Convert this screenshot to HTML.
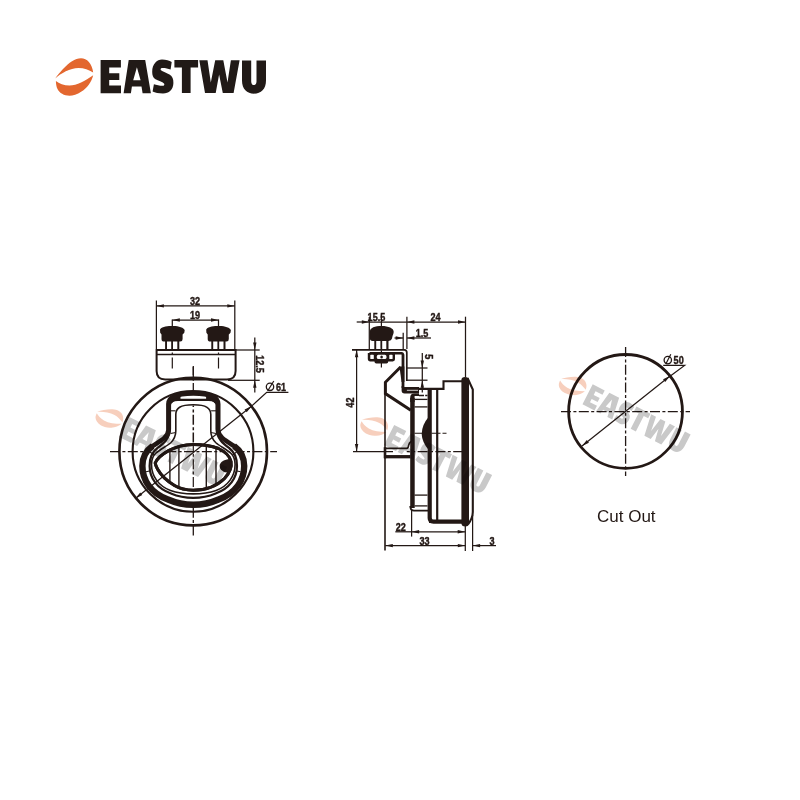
<!DOCTYPE html>
<html><head><meta charset="utf-8">
<style>
html,body{margin:0;padding:0;background:#fff;}
body{width:800px;height:800px;overflow:hidden;position:relative;font-family:"Liberation Sans",sans-serif;}
svg{position:absolute;left:0;top:0;will-change:transform;}
.k{stroke:#231815;fill:none;}
.t{font-family:"Liberation Sans",sans-serif;fill:#231815;font-size:10.8px;font-weight:bold;stroke:#231815;stroke-width:0.42;}
</style></head>
<body>
<svg width="800" height="800" viewBox="0 0 800 800">
<g id="logo"><g fill="#e3672f"><path d="M55.3,78.4 C59,73 66,65 72,61.2 C75,59.3 78,58.3 81,58.3 C87,58.3 92,63.5 93.2,72.5 C89,70 84,68.1 78.5,68.1 C70,68.1 61,73.5 55.3,78.4 Z"/><path d="M55.9,80.9 C59,83.5 64,85.6 69.5,85.6 C77,85.6 85,81 93.2,75.3 C91.5,82 87,88.5 81.5,91.5 C77,94.5 73,95.7 69.5,95.7 C64,95.7 59.5,93 57.5,89 C56.3,86.5 55.9,83.5 55.9,80.9 Z"/></g><g fill="#211a17" fill-rule="evenodd"><path d="M100.6,60.1 H120.9 V67.4 H109.2 V73.3 H119.3 V80 H109.2 V85.4 H121 V93.2 H100.6 Z"/><path d="M128.7,60.1 H145.2 L150.9,93.2 H142.6 L141.5,86.6 H131.9 L130.9,93.2 H123.6 Z M136.9,67.2 L133.2,80.3 H140.6 Z"/><path d="M162,59.6 C166,59.6 169.5,60.5 171.7,62 L170.6,69.5 C168,68.3 165,67.8 162,67.9 C160.5,68 160.3,69.5 161,70.3 C162.5,71.8 167,73 169.5,74.6 C172.5,76.5 173.5,79 173.4,83 C173.3,89.5 169,93.5 163,93.5 C158.5,93.5 155,92.8 152.6,91.6 L153.9,84.3 C156.5,85.2 159.5,85.8 162.5,85.8 C164.3,85.8 164.8,84.4 164,83.4 C162.5,82 158,80.8 155.5,79.3 C153,77.8 152.2,75 152.2,72 C152.2,64 157,59.6 162,59.6 Z"/><path d="M174.4,60 H198.1 V67.5 H190.6 V93.1 H181.9 V67.5 H174.4 Z"/><path d="M199.3,60.3 H207.5 L210.8,82.4 L215.2,60.3 H223.3 L227.5,82.4 L230.9,60.3 H239.6 L233.6,93.1 H222.8 L219.1,74.4 L215.7,93.1 H205 Z"/><path d="M242,60.4 H251.2 V81.5 C251.2,84 252.5,85.1 253.85,85.1 C255.2,85.1 256.5,84 256.5,81.5 V60.4 H266 V80.5 C266,89 261,93.7 254,93.7 C247,93.7 242,89 242,80.5 Z"/></g></g>
<g id="front">
<line class="k" stroke-width="1.3" stroke-dasharray="10 2.4 3 2.4" stroke-dashoffset="0" x1="110" y1="451.7" x2="277" y2="451.7"/>
<line class="k" stroke-width="1.3" stroke-dasharray="10 2.4 3 2.4" stroke-dashoffset="0" x1="193.3" y1="535.5" x2="193.3" y2="366"/>
<circle class="k" cx="193.2" cy="451.6" r="73.8" stroke-width="2.6"/>
<circle class="k" cx="193" cy="451.4" r="60.4" stroke-width="2.1"/>
<path class="k" stroke-width="2" fill="#fff" d="M156.6,350 H235.6 V371 Q235.6,379.4 227,379.4 H165.2 Q156.6,379.4 156.6,371 Z"/>
<line class="k" stroke-width="1.5" x1="156.6" y1="354.6" x2="235.6" y2="354.6"/>
<line class="k" stroke-width="1.2" stroke-dasharray="2.5 2.5 11 3" stroke-dashoffset="0" x1="172.3" y1="352.5" x2="172.3" y2="370"/>
<line class="k" stroke-width="1.2" stroke-dasharray="2.5 2.5 11 3" stroke-dashoffset="0" x1="218.5" y1="352.5" x2="218.5" y2="370"/>
<line class="k" stroke-width="1.3" stroke-dasharray="10 2.4 3 2.4" stroke-dashoffset="0" x1="193.3" y1="367" x2="193.3" y2="380"/>
<path fill="#231815" d="M160,329.4 C162.3,326.5 168.3,326.1 172.3,326.1 C176.3,326.1 182.3,326.5 184.7,330 L184.3,332.7 L182.6,334.4 L182.6,339 Q182.6,341.6 180.3,341.6 L164.3,341.6 Q161.5,341.6 161.5,339 L161.5,334.4 L160.2,332.7 Z"/>
<rect x="165.1" y="341" width="1.9" height="8.5" fill="#231815"/>
<rect x="171.2" y="341" width="1.8" height="8.5" fill="#231815"/>
<rect x="177.3" y="341" width="2" height="8.5" fill="#231815"/>
<path fill="#231815" d="M206.2,329.4 C208.5,326.5 214.5,326.1 218.5,326.1 C222.5,326.1 228.5,326.5 230.9,330 L230.5,332.7 L228.8,334.4 L228.8,339 Q228.8,341.6 226.5,341.6 L210.5,341.6 Q207.7,341.6 207.7,339 L207.7,334.4 L206.4,332.7 Z"/>
<rect x="211.3" y="341" width="1.9" height="8.5" fill="#231815"/>
<rect x="217.4" y="341" width="1.8" height="8.5" fill="#231815"/>
<rect x="223.5" y="341" width="2" height="8.5" fill="#231815"/>
<line class="k" stroke-width="1.25" x1="156.4" y1="300.5" x2="156.4" y2="349"/>
<line class="k" stroke-width="1.25" x1="234.8" y1="300.5" x2="234.8" y2="349"/>
<line class="k" stroke-width="1.25" x1="156.4" y1="305.9" x2="234.8" y2="305.9"/>
<path fill="#231815" d="M234.8,305.9 L227.3,307.6 L227.3,304.2 Z"/>
<path fill="#231815" d="M156.4,305.9 L163.9,304.2 L163.9,307.6 Z"/>
<text class="t" text-anchor="middle" transform="translate(195,304.9) scale(0.84,1)">32</text>
<line class="k" stroke-width="1.25" x1="172.3" y1="319.4" x2="172.3" y2="326.5"/>
<line class="k" stroke-width="1.25" x1="218.5" y1="319.4" x2="218.5" y2="326.5"/>
<line class="k" stroke-width="1.25" x1="172.3" y1="320" x2="218.5" y2="320"/>
<path fill="#231815" d="M218.5,320 L211,321.7 L211,318.3 Z"/>
<path fill="#231815" d="M172.3,320 L179.8,318.3 L179.8,321.7 Z"/>
<text class="t" text-anchor="middle" transform="translate(195,318.6) scale(0.84,1)">19</text>
<line class="k" stroke-width="1.25" x1="236" y1="350" x2="259.7" y2="350"/>
<line class="k" stroke-width="1.25" x1="228" y1="380.3" x2="259.7" y2="380.3"/>
<line class="k" stroke-width="1.25" x1="254.8" y1="337.4" x2="254.8" y2="350"/>
<path fill="#231815" d="M254.8,350 L253.1,342.5 L256.5,342.5 Z"/>
<line class="k" stroke-width="1.25" x1="254.8" y1="392.5" x2="254.8" y2="380.3"/>
<path fill="#231815" d="M254.8,380.3 L256.5,387.8 L253.1,387.8 Z"/>
<line class="k" stroke-width="1.25" x1="254.8" y1="350" x2="254.8" y2="380.3"/>
<text class="t" text-anchor="middle" transform="translate(256.4,364) rotate(90) scale(0.84,1)">12.5</text>
<g id="handle">
<path fill="#fff" d="M193.3,393.4 C186,393.4 178,394.4 173.5,396.6 C170,398.3 168.4,400.5 168.4,404 C168.4,404 168.4,430 168.4,430 C168.4,437 160.5,441 152.5,446 C145.5,451 142.4,457 142.4,466 C142.4,480 150.5,493 168,499.5 C176,503 185,504.8 193.3,504.8 C201.6,504.8 210.6,503 218.6,499.5 C236.1,493 244.2,480 244.2,466 C244.2,457 241.1,451 234.1,446 C226.1,441 218.2,437 218.2,430 C218.2,430 218.2,404 218.2,404 C218.2,400.5 216.6,398.3 213.1,396.6 C208.6,394.4 200.6,393.4 193.3,393.4 Z"/>
<path class="k" stroke-width="2.2" d="M193.3,399.8 C193.3,399.8 178,399.8 178,399.8 C173.5,399.8 170,401.5 170,405 C170,405 170,429 170,429 C170,438.5 163,443.8 157.5,448 C152,452 149.6,458 149.6,466 C149.6,478 157,488.5 171,493.5 C178,496.5 186,497.9 193.3,497.9 C200.6,497.9 208.6,496.5 215.6,493.5 C229.6,488.5 237,478 237,466 C237,458 234.6,452 229.1,448 C223.6,443.8 216.6,438.5 216.6,429 C216.6,429 216.6,405 216.6,405 C216.6,401.5 213.1,399.8 208.6,399.8 C208.6,399.8 193.3,399.8 193.3,399.8 Z"/>
<path class="k" stroke-width="1.6" d="M193.3,404.8 C187,404.8 182,405.8 179.6,407.3 C177,409 175.8,411 175.8,414.5 C175.8,414.5 175.8,431 175.8,431 C175.8,437 173.5,440 170.7,442.75 C167,446 160,449.5 155.5,453.5 C152.5,456.5 151.5,460 151.5,464.5 C151.5,476 158.5,486 170.5,490.5 C177.5,493 185.5,493.9 193.3,493.9 C201.1,493.9 209.1,493 216.1,490.5 C228.1,486 235.1,476 235.1,464.5 C235.1,460 234.1,456.5 231.1,453.5 C226.6,449.5 219.6,446 215.9,442.75 C213.1,440 210.8,437 210.8,431 C210.8,431 210.8,414.5 210.8,414.5 C210.8,411 209.6,409 207,407.3 C204.6,405.8 199.6,404.8 193.3,404.8 Z"/>
<path fill="#231815" d="M170,396 L180.5,395.8 L180.5,399.3 Q175,399.6 171.6,403.5 L170,403.5 Z"/>
<path fill="#231815" d="M216.6,396 L206.1,395.8 L206.1,399.3 Q211.6,399.6 215,403.5 L216.6,403.5 Z"/>
<path class="k" stroke-width="4.6" d="M193.3,393.4 C186,393.4 178,394.4 173.5,396.6 C170,398.3 168.4,400.5 168.4,404 C168.4,404 168.4,430 168.4,430 C168.4,437 160.5,441 152.5,446 C145.5,451 142.4,457 142.4,466 C142.4,480 150.5,493 168,499.5 C176,503 185,504.8 193.3,504.8 C201.6,504.8 210.6,503 218.6,499.5 C236.1,493 244.2,480 244.2,466 C244.2,457 241.1,451 234.1,446 C226.1,441 218.2,437 218.2,430 C218.2,430 218.2,404 218.2,404 C218.2,400.5 216.6,398.3 213.1,396.6 C208.6,394.4 200.6,393.4 193.3,393.4 Z"/>
<path class="k" stroke-width="6.4" d="M152.5,446 C145.5,451 142.4,457 142.4,466 C142.4,480 150.5,493 168,499.5 C176,503 185,504.8 193.3,504.8 C201.6,504.8 210.6,503 218.6,499.5 C236.1,493 244.2,480 244.2,466 C244.2,457 241.1,451 234.1,446"/>
<line class="k" stroke-width="1.5" stroke-dasharray="10 2.4 3 2.4" stroke-dashoffset="8.5" x1="193.3" y1="405.5" x2="193.3" y2="444"/>
<line class="k" stroke-width="1.1" x1="170.5" y1="410.8" x2="175.5" y2="410.8"/>
<line class="k" stroke-width="1.1" x1="216.1" y1="410.8" x2="211.1" y2="410.8"/>
<line class="k" stroke-width="1.1" x1="146" y1="471.8" x2="149.5" y2="471"/>
<line class="k" stroke-width="1.1" x1="240.6" y1="471.8" x2="237.1" y2="471"/>
<line class="k" stroke-width="1.1" x1="170.5" y1="433.5" x2="175.8" y2="432.5"/>
<line class="k" stroke-width="1.1" x1="216.1" y1="433.5" x2="210.8" y2="432.5"/>
<line class="k" stroke-width="1.1" x1="150" y1="452" x2="154" y2="455"/>
<line class="k" stroke-width="1.1" x1="236.6" y1="452" x2="232.6" y2="455"/>
<path d="M155.2,463 C156.8,459 161.5,454.6 168.6,450.6 C175.5,446.8 184,444.5 193.3,444.4 C204,444.4 212,446 218.5,448.5 C225,451.5 229.8,456 231,461.5 C232,467 229.5,473 224.5,478.5 C217.5,485.5 206,490.2 193.3,490.2 C186,490.2 180,488.8 174.5,485.5 C167,481 160.5,474.5 157.5,469 C156.2,466.8 155.5,465 155.2,463 Z" fill="#fff" stroke="#231815" stroke-width="3"/>
<line class="k" stroke-width="1.4" x1="169.9" y1="449.77" x2="169.9" y2="482.58"/>
<line class="k" stroke-width="1.4" x1="178.9" y1="446.34" x2="178.9" y2="487.8"/>
<line class="k" stroke-width="1.4" x1="206.3" y1="445.29" x2="206.3" y2="488.58"/>
<line class="k" stroke-width="1.4" x1="216" y1="447.54" x2="216" y2="484.83"/>
<line class="k" stroke-width="1.2" stroke-dasharray="10 2.4 3 2.4" stroke-dashoffset="0" x1="166.25" y1="451.7" x2="224.31" y2="451.7"/>
<line class="k" stroke-width="1.2" stroke-dasharray="10 2.4 3 2.4" stroke-dashoffset="3" x1="193.3" y1="444.4" x2="193.3" y2="490.2"/>
<path fill="#231815" d="M231.3,459.4 C226,458.8 219.6,461.5 219.6,466 C219.6,470.5 225,473.2 229.5,472.6 Z"/>
<path d="M155.2,463 C156.8,459 161.5,454.6 168.6,450.6 C175.5,446.8 184,444.5 193.3,444.4 C204,444.4 212,446 218.5,448.5 C225,451.5 229.8,456 231,461.5 C232,467 229.5,473 224.5,478.5 C217.5,485.5 206,490.2 193.3,490.2 C186,490.2 180,488.8 174.5,485.5 C167,481 160.5,474.5 157.5,469 C156.2,466.8 155.5,465 155.2,463 Z" fill="none" stroke="#231815" stroke-width="3"/>
</g>
<line class="k" stroke-width="1.25" x1="135.4" y1="498.4" x2="251.5" y2="406.2"/>
<path fill="#231815" d="M251.5,406.2 L246.68,412.2 L244.57,409.53 Z"/>
<path fill="#231815" d="M135.4,498.4 L140.22,492.4 L142.33,495.07 Z"/>
<polyline class="k" stroke-width="1.25" points="251,406.6 266.7,392.3 288.4,392.3"/>
<circle class="k" stroke-width="1.3" cx="270" cy="386.8" r="3.7"/>
<line class="k" stroke-width="1.2" x1="267.6" y1="391" x2="273.8" y2="381"/>
<text class="t" font-size="10.2" transform="translate(276,390.8) scale(0.84,1)">61</text>
</g>
<g id="side">
<line class="k" stroke-width="1.3" x1="353" y1="451.6" x2="393" y2="451.6"/>
<line class="k" stroke-width="1.3" stroke-dasharray="10 2.4 3 2.4" stroke-dashoffset="7" x1="406.8" y1="451.6" x2="471" y2="451.6"/>
<line class="k" stroke-width="1.2" stroke-dasharray="12 2.4 3 2.4" stroke-dashoffset="0" x1="381.4" y1="316" x2="381.4" y2="370"/>
<line class="k" stroke-width="1.25" x1="369.3" y1="317" x2="369.3" y2="349"/>
<line class="k" stroke-width="1.25" x1="406.9" y1="316.7" x2="406.9" y2="349"/>
<line class="k" stroke-width="1.25" x1="465.5" y1="316.7" x2="465.5" y2="377"/>
<line class="k" stroke-width="1.25" x1="356.7" y1="322" x2="369.3" y2="322"/>
<path fill="#231815" d="M369.3,322 L361.8,323.7 L361.8,320.3 Z"/>
<line class="k" stroke-width="1.25" x1="369.3" y1="322" x2="406.9" y2="322"/>
<line class="k" stroke-width="1.25" x1="406.9" y1="322" x2="465.5" y2="322"/>
<path fill="#231815" d="M465.5,322 L458,323.7 L458,320.3 Z"/>
<path fill="#231815" d="M406.9,322 L414.4,320.3 L414.4,323.7 Z"/>
<text class="t" transform="translate(367.6,320.7) scale(0.84,1)">15.5</text>
<text class="t" text-anchor="middle" transform="translate(435.5,320.6) scale(0.84,1)">24</text>
<line class="k" stroke-width="1.25" x1="403.2" y1="332.7" x2="403.2" y2="349"/>
<line class="k" stroke-width="1.25" x1="394.5" y1="338" x2="403.2" y2="338"/>
<path fill="#231815" d="M403.2,338 L395.7,339.7 L395.7,336.3 Z"/>
<line class="k" stroke-width="1.25" x1="431" y1="338" x2="406.9" y2="338"/>
<path fill="#231815" d="M406.9,338 L414.4,336.3 L414.4,339.7 Z"/>
<text class="t" transform="translate(415.8,337) scale(0.84,1)">1.5</text>
<path fill="#231815" d="M369.9,331.5 C369.9,327.8 375,326 381.6,326 C388.5,326 393.7,328.2 393.7,331.8 C393.7,334.2 392.6,335.2 392.3,337 L392,338.6 Q391.4,341 388.6,341 L372.6,341 Q369.9,341 369.9,338.3 Z"/>
<rect x="374.3" y="341" width="1.9" height="8.4" fill="#231815"/>
<rect x="380.5" y="341" width="1.7" height="8.4" fill="#231815"/>
<rect x="386.3" y="341" width="2.2" height="8.4" fill="#231815"/>
<path class="k" stroke-width="1.7" d="M352,349.8 H404.3 Q406.8,349.8 406.8,352.5 V381"/>
<path class="k" stroke-width="2.4" d="M369.5,353.3 H401.5 Q403,353.3 403,355"/>
<path class="k" stroke-width="2.8" d="M403,354.5 V388"/>
<path fill="#231815" d="M399.4,366.4 H404.4 V382 H401.6 Z"/>
<path fill="#231815" d="M401.6,386 V390.5 Q401.6,393.5 404.6,393.5 H419 V387.1 H404.4 Z"/>
<line stroke="#fff" stroke-width="0.8" x1="406.9" y1="390.3" x2="418" y2="390.3"/>
<path fill="#231815" d="M367.8,353 H395 V359.3 Q395,361.4 392.8,361.4 H388.2 V361.8 Q388.2,363.4 386.4,363.4 H376.3 Q374.5,363.4 374.5,361.8 V361.4 H370 Q367.8,361.4 367.8,359.3 Z"/>
<rect x="370.3" y="354.8" width="3.5" height="4.2" rx="0.6" fill="#fff"/>
<rect x="376.8" y="354.8" width="9.7" height="4.2" rx="1.6" fill="#fff"/>
<ellipse cx="381.6" cy="357" rx="1.3" ry="1.5" fill="#231815"/>
<rect x="389.3" y="354.8" width="3.3" height="4.2" rx="0.6" fill="#fff"/>
<line class="k" stroke-width="1.25" x1="406.5" y1="368" x2="427.5" y2="368"/>
<line class="k" stroke-width="1.25" x1="406.5" y1="380.2" x2="427.5" y2="380.2"/>
<line class="k" stroke-width="1.25" x1="422.3" y1="353" x2="422.3" y2="368"/>
<path fill="#231815" d="M422.3,368 L420.6,360.5 L424,360.5 Z"/>
<line class="k" stroke-width="1.25" x1="422.3" y1="392.5" x2="422.3" y2="380.2"/>
<path fill="#231815" d="M422.3,380.2 L424,387.7 L420.6,387.7 Z"/>
<line class="k" stroke-width="1.25" x1="422.3" y1="368" x2="422.3" y2="380.2"/>
<text class="t" text-anchor="middle" transform="translate(424.8,356.8) rotate(90) scale(0.84,1)">5</text>
<path class="k" stroke-width="3" stroke-linejoin="miter" d="M400.6,367 L385.4,382.3 V393.6 L410.8,410.3"/>
<line class="k" stroke-width="1.6" x1="385" y1="382" x2="385" y2="550.4"/>
<path class="k" stroke-width="2.1" d="M418,388.9 H443.5 V381.3 H463"/>
<path fill="#231815" d="M410.2,402 V397.5 Q410.2,393.5 414.2,393.5 H419 V396.1 H414.6 V402 Z"/>
<path class="k" stroke-width="1.3" stroke-dasharray="5 1.2 3 1.2" d="M419,395.5 H427.5"/>
<line class="k" stroke-width="4.5" x1="412.45" y1="398" x2="412.45" y2="508"/>
<path class="k" stroke-width="1.8" d="M410.25,506 Q410.3,510.6 414,510.6 H428"/>
<line class="k" stroke-width="1.3" x1="414.5" y1="399.4" x2="427.5" y2="399.4"/>
<line class="k" stroke-width="1.3" x1="414.5" y1="406.9" x2="427.5" y2="406.9"/>
<line class="k" stroke-width="1.3" x1="414.5" y1="495.1" x2="427.5" y2="495.1"/>
<line class="k" stroke-width="1.3" x1="414.5" y1="505.9" x2="427.5" y2="505.9"/>
<path class="k" stroke-width="4.2" d="M429.7,388 V518 Q429.7,521.6 433.5,521.6 H463.6"/>
<path class="k" stroke-width="2.7" d="M429,521.6 H463.6"/>
<line class="k" stroke-width="2.2" x1="437.2" y1="389" x2="437.2" y2="521"/>
<path fill="#231815" d="M429,416.5 Q414.5,433.5 429,450.5 Z"/>
<line class="k" stroke-width="1.1" stroke-dasharray="9 2 4 2" stroke-dashoffset="0" x1="414.5" y1="433.2" x2="446.5" y2="433.2"/>
<path fill="#231815" d="M461.4,380 Q461.4,377 465,377 Q468.6,377 469,380 V523 Q469,526.5 465.3,526.5 Q461.4,526.5 461.4,523 Z"/>
<path class="k" stroke-width="2.1" d="M467.5,378 L472.8,389.5 V512 Q472.8,518 468,524.5"/>
<path class="k" stroke-width="1.7" d="M385,448.4 H406.6 Q408.3,448.4 408.6,445.5 Q409,442.8 411,441.5"/>
<line class="k" stroke-width="3.3" x1="384" y1="456.7" x2="410.5" y2="456.7"/>
<line class="k" stroke-width="2.6" x1="385" y1="447.2" x2="385" y2="458.3"/>
<line class="k" stroke-width="1.25" x1="356.6" y1="360" x2="356.6" y2="349.8"/>
<path fill="#231815" d="M356.6,349.8 L358.3,357.3 L354.9,357.3 Z"/>
<line class="k" stroke-width="1.25" x1="356.6" y1="360" x2="356.6" y2="451.4"/>
<path fill="#231815" d="M356.6,451.4 L354.9,443.9 L358.3,443.9 Z"/>
<text class="t" text-anchor="middle" transform="translate(353.8,402.6) rotate(-90) scale(0.84,1)">42</text>
<line class="k" stroke-width="1.25" x1="411.6" y1="510" x2="411.6" y2="536.6"/>
<line class="k" stroke-width="1.25" x1="395.3" y1="531.8" x2="411.6" y2="531.8"/>
<line class="k" stroke-width="1.25" x1="411.6" y1="531.8" x2="465.2" y2="531.8"/>
<path fill="#231815" d="M465.2,531.8 L457.7,533.5 L457.7,530.1 Z"/>
<path fill="#231815" d="M411.6,531.8 L419.1,530.1 L419.1,533.5 Z"/>
<text class="t" transform="translate(395.8,531) scale(0.84,1)">22</text>
<line class="k" stroke-width="1.25" x1="465.3" y1="526" x2="465.3" y2="551"/>
<line class="k" stroke-width="1.25" x1="472.6" y1="515" x2="472.6" y2="551"/>
<line class="k" stroke-width="1.25" x1="385.3" y1="545.6" x2="465.3" y2="545.6"/>
<path fill="#231815" d="M465.3,545.6 L457.8,547.3 L457.8,543.9 Z"/>
<path fill="#231815" d="M385.3,545.6 L392.8,543.9 L392.8,547.3 Z"/>
<text class="t" text-anchor="middle" transform="translate(424.6,544.8) scale(0.84,1)">33</text>
<line class="k" stroke-width="1.25" x1="482" y1="545.6" x2="472.6" y2="545.6"/>
<path fill="#231815" d="M472.6,545.6 L480.1,543.9 L480.1,547.3 Z"/>
<line class="k" stroke-width="1.25" x1="482" y1="545.6" x2="496" y2="545.6"/>
<text class="t" transform="translate(489.6,544.9) scale(0.84,1)">3</text>
</g>
<g id="cut">
<circle class="k" cx="625.55" cy="411.4" r="56.9" stroke-width="2.8"/>
<line class="k" stroke-width="1.3" stroke-dasharray="10 2.4 3 2.4" stroke-dashoffset="0" x1="561" y1="411.6" x2="690" y2="411.6"/>
<line class="k" stroke-width="1.3" stroke-dasharray="10 2.4 3 2.4" stroke-dashoffset="0" x1="625.6" y1="347" x2="625.6" y2="476"/>
<line class="k" stroke-width="1.25" x1="582" y1="446" x2="670" y2="376"/>
<path fill="#231815" d="M670,376 L665.19,382 L663.07,379.34 Z"/>
<path fill="#231815" d="M582,446 L586.81,440 L588.93,442.66 Z"/>
<polyline class="k" stroke-width="1.25" points="669,377 684.6,365.4 663.2,365.4"/>
<circle class="k" stroke-width="1.3" cx="667.8" cy="360.1" r="3.7"/>
<line class="k" stroke-width="1.2" x1="665.8" y1="364" x2="670.8" y2="354.2"/>
<text class="t" font-size="10.2" transform="translate(673.6,364) scale(0.84,1)">50</text>
<text x="597" y="521.8" font-family="Liberation Sans" font-size="17" letter-spacing="0" fill="#231815">Cut Out</text>
</g>
<g id="wm" style="mix-blend-mode:multiply">
<g fill="#f7cfbd" transform="translate(109.45,417.75) rotate(30) scale(0.72,0.57) translate(-74.25,-76.75)"><path d="M55.3,78.4 C59,73 66,65 72,61.2 C75,59.3 78,58.3 81,58.3 C87,58.3 92,63.5 93.2,72.5 C89,70 84,68.1 78.5,68.1 C70,68.1 61,73.5 55.3,78.4 Z"/><path d="M55.9,80.9 C59,83.5 64,85.6 69.5,85.6 C77,85.6 85,81 93.2,75.3 C91.5,82 87,88.5 81.5,91.5 C77,94.5 73,95.7 69.5,95.7 C64,95.7 59.5,93 57.5,89 C56.3,86.5 55.9,83.5 55.9,80.9 Z"/></g>
<g fill="#c9c9c9" fill-rule="evenodd" transform="translate(129.4,416.9) rotate(27) scale(0.665,0.68) translate(-100.6,-60.1)"><path d="M100.6,60.1 H120.9 V67.4 H109.2 V73.3 H119.3 V80 H109.2 V85.4 H121 V93.2 H100.6 Z"/><path d="M128.7,60.1 H145.2 L150.9,93.2 H142.6 L141.5,86.6 H131.9 L130.9,93.2 H123.6 Z M136.9,67.2 L133.2,80.3 H140.6 Z"/><path d="M162,59.6 C166,59.6 169.5,60.5 171.7,62 L170.6,69.5 C168,68.3 165,67.8 162,67.9 C160.5,68 160.3,69.5 161,70.3 C162.5,71.8 167,73 169.5,74.6 C172.5,76.5 173.5,79 173.4,83 C173.3,89.5 169,93.5 163,93.5 C158.5,93.5 155,92.8 152.6,91.6 L153.9,84.3 C156.5,85.2 159.5,85.8 162.5,85.8 C164.3,85.8 164.8,84.4 164,83.4 C162.5,82 158,80.8 155.5,79.3 C153,77.8 152.2,75 152.2,72 C152.2,64 157,59.6 162,59.6 Z"/><path d="M174.4,60 H198.1 V67.5 H190.6 V93.1 H181.9 V67.5 H174.4 Z"/><path d="M199.3,60.3 H207.5 L210.8,82.4 L215.2,60.3 H223.3 L227.5,82.4 L230.9,60.3 H239.6 L233.6,93.1 H222.8 L219.1,74.4 L215.7,93.1 H205 Z"/><path d="M242,60.4 H251.2 V81.5 C251.2,84 252.5,85.1 253.85,85.1 C255.2,85.1 256.5,84 256.5,81.5 V60.4 H266 V80.5 C266,89 261,93.7 254,93.7 C247,93.7 242,89 242,80.5 Z"/></g>
<g fill="#f7cfbd" transform="translate(374.25,425.8) rotate(30) scale(0.72,0.57) translate(-74.25,-76.75)"><path d="M55.3,78.4 C59,73 66,65 72,61.2 C75,59.3 78,58.3 81,58.3 C87,58.3 92,63.5 93.2,72.5 C89,70 84,68.1 78.5,68.1 C70,68.1 61,73.5 55.3,78.4 Z"/><path d="M55.9,80.9 C59,83.5 64,85.6 69.5,85.6 C77,85.6 85,81 93.2,75.3 C91.5,82 87,88.5 81.5,91.5 C77,94.5 73,95.7 69.5,95.7 C64,95.7 59.5,93 57.5,89 C56.3,86.5 55.9,83.5 55.9,80.9 Z"/></g>
<g fill="#c9c9c9" fill-rule="evenodd" transform="translate(394.2,424.95) rotate(27) scale(0.665,0.68) translate(-100.6,-60.1)"><path d="M100.6,60.1 H120.9 V67.4 H109.2 V73.3 H119.3 V80 H109.2 V85.4 H121 V93.2 H100.6 Z"/><path d="M128.7,60.1 H145.2 L150.9,93.2 H142.6 L141.5,86.6 H131.9 L130.9,93.2 H123.6 Z M136.9,67.2 L133.2,80.3 H140.6 Z"/><path d="M162,59.6 C166,59.6 169.5,60.5 171.7,62 L170.6,69.5 C168,68.3 165,67.8 162,67.9 C160.5,68 160.3,69.5 161,70.3 C162.5,71.8 167,73 169.5,74.6 C172.5,76.5 173.5,79 173.4,83 C173.3,89.5 169,93.5 163,93.5 C158.5,93.5 155,92.8 152.6,91.6 L153.9,84.3 C156.5,85.2 159.5,85.8 162.5,85.8 C164.3,85.8 164.8,84.4 164,83.4 C162.5,82 158,80.8 155.5,79.3 C153,77.8 152.2,75 152.2,72 C152.2,64 157,59.6 162,59.6 Z"/><path d="M174.4,60 H198.1 V67.5 H190.6 V93.1 H181.9 V67.5 H174.4 Z"/><path d="M199.3,60.3 H207.5 L210.8,82.4 L215.2,60.3 H223.3 L227.5,82.4 L230.9,60.3 H239.6 L233.6,93.1 H222.8 L219.1,74.4 L215.7,93.1 H205 Z"/><path d="M242,60.4 H251.2 V81.5 C251.2,84 252.5,85.1 253.85,85.1 C255.2,85.1 256.5,84 256.5,81.5 V60.4 H266 V80.5 C266,89 261,93.7 254,93.7 C247,93.7 242,89 242,80.5 Z"/></g>
<g fill="#f7cfbd" transform="translate(572.75,385.15) rotate(30) scale(0.72,0.57) translate(-74.25,-76.75)"><path d="M55.3,78.4 C59,73 66,65 72,61.2 C75,59.3 78,58.3 81,58.3 C87,58.3 92,63.5 93.2,72.5 C89,70 84,68.1 78.5,68.1 C70,68.1 61,73.5 55.3,78.4 Z"/><path d="M55.9,80.9 C59,83.5 64,85.6 69.5,85.6 C77,85.6 85,81 93.2,75.3 C91.5,82 87,88.5 81.5,91.5 C77,94.5 73,95.7 69.5,95.7 C64,95.7 59.5,93 57.5,89 C56.3,86.5 55.9,83.5 55.9,80.9 Z"/></g>
<g fill="#c9c9c9" fill-rule="evenodd" transform="translate(592.7,384.3) rotate(27) scale(0.665,0.68) translate(-100.6,-60.1)"><path d="M100.6,60.1 H120.9 V67.4 H109.2 V73.3 H119.3 V80 H109.2 V85.4 H121 V93.2 H100.6 Z"/><path d="M128.7,60.1 H145.2 L150.9,93.2 H142.6 L141.5,86.6 H131.9 L130.9,93.2 H123.6 Z M136.9,67.2 L133.2,80.3 H140.6 Z"/><path d="M162,59.6 C166,59.6 169.5,60.5 171.7,62 L170.6,69.5 C168,68.3 165,67.8 162,67.9 C160.5,68 160.3,69.5 161,70.3 C162.5,71.8 167,73 169.5,74.6 C172.5,76.5 173.5,79 173.4,83 C173.3,89.5 169,93.5 163,93.5 C158.5,93.5 155,92.8 152.6,91.6 L153.9,84.3 C156.5,85.2 159.5,85.8 162.5,85.8 C164.3,85.8 164.8,84.4 164,83.4 C162.5,82 158,80.8 155.5,79.3 C153,77.8 152.2,75 152.2,72 C152.2,64 157,59.6 162,59.6 Z"/><path d="M174.4,60 H198.1 V67.5 H190.6 V93.1 H181.9 V67.5 H174.4 Z"/><path d="M199.3,60.3 H207.5 L210.8,82.4 L215.2,60.3 H223.3 L227.5,82.4 L230.9,60.3 H239.6 L233.6,93.1 H222.8 L219.1,74.4 L215.7,93.1 H205 Z"/><path d="M242,60.4 H251.2 V81.5 C251.2,84 252.5,85.1 253.85,85.1 C255.2,85.1 256.5,84 256.5,81.5 V60.4 H266 V80.5 C266,89 261,93.7 254,93.7 C247,93.7 242,89 242,80.5 Z"/></g>
</g>
</svg>
</body></html>
